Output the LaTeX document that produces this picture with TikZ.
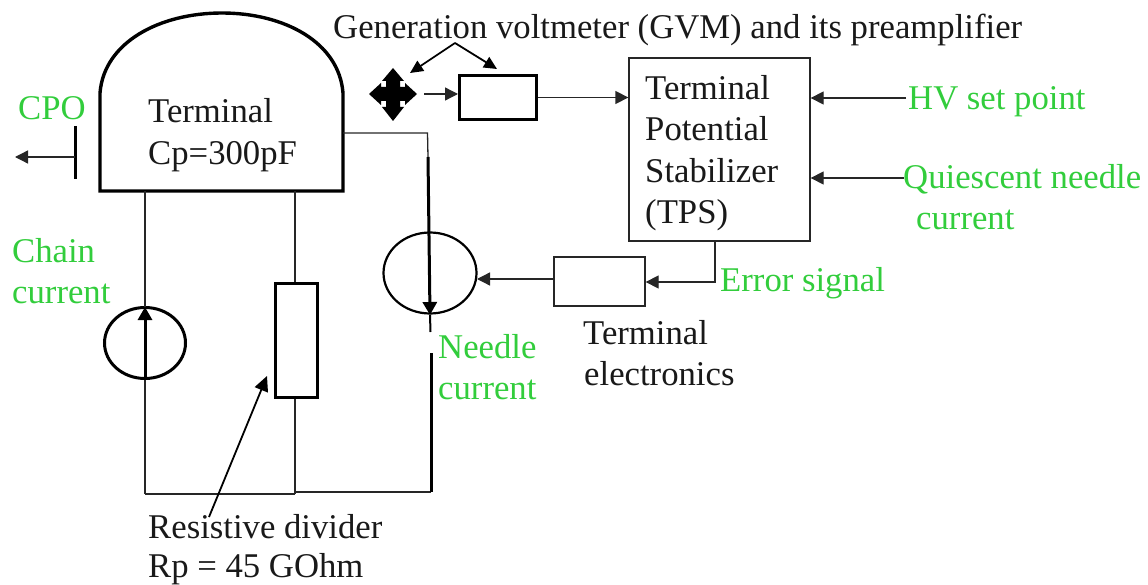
\documentclass[tikz,border=0pt]{standalone}
\usepackage{fontspec}
\setmainfont{Liberation Serif}
\usetikzlibrary{arrows.meta,calc,shapes.geometric}
\definecolor{lblgreen}{RGB}{50,205,60}
\tikzset{
  thinw/.style={line width=1.3pt,black!85},
  thickw/.style={line width=3pt,black},
  arr/.style={thinw,-{Triangle[length=13pt,width=13pt]}},
  thickarr/.style={thickw,-{Triangle[length=13pt,width=14pt]}},
  txt/.style={inner sep=0pt,anchor=base west,align=left,font=\fontsize{34.7}{42}\selectfont,text=black!90},
  gtxt/.style={txt,text=lblgreen},
}
\begin{document}
\begin{tikzpicture}[x=1pt,y=-1pt]
\useasboundingbox (0,0) rectangle (1148,585);
% terminal dome
\coordinate (domeL) at (100,93);
\coordinate (domeR) at (343,93);
\coordinate (domeBL) at (100,191);
\coordinate (domeBR) at (343,191);
\coordinate (domeOut) at (343,133);
\coordinate (chainTop) at (145,191);
\coordinate (divTop) at (295,191);
\draw[line width=3.4pt,line join=miter] (domeBL) -- (domeL)
  .. controls (104,42) and (160,13) .. (222,13)
  .. controls (284,13) and (339,42) .. (domeR) -- (domeBR) -- cycle;
\node[txt] (term) at (148,123) {Terminal};
\node[txt] (cp) at (148,165) {Cp=300pF};
% CPO
\node[gtxt] (cpo) at (18,120) {CPO};
\coordinate (plateT) at (75,126);
\coordinate (plateB) at (75,179);
\coordinate (plateM) at (75,157);
\coordinate (cpoEnd) at (15,157);
\draw[line width=3pt] (plateT) -- (plateB);
\draw[arr] (plateM) -- (cpoEnd);
% chain source
\node[draw,line width=3pt,ellipse,minimum width=81pt,minimum height=71pt,inner sep=0pt] (chain) at (145,343) {};
\coordinate (chainBot) at (145,494);
\coordinate (chainS) at (145,380);
\coordinate (chainN) at (145,307);
\draw[thinw] (chainTop) -- (chainN);
\draw[thinw] (chainS) -- (chainBot);
\draw[thickarr] (chainS) -- (chainN);
\node[gtxt] (chainl) at (12,262) {Chain};
\node[gtxt] (chainl2) at (12,303) {current};
% divider
\node[draw,line width=3pt,minimum width=42pt,minimum height=113pt,inner sep=0pt] (div) at (296.5,340.5) {};
\coordinate (divBot) at (295,494);
\coordinate (needleBot) at (431,492);
\draw[thinw] (divTop) -- (div.north -| divTop);
\draw[thinw] (div.south -| divBot) -- (divBot);
\draw[thinw] (chainBot) -- (divBot);
\draw[thinw] (divBot |- needleBot) -- (needleBot);
% divider label
\node[txt] (divl) at (148,538) {Resistive divider};
\node[txt] (divl2) at (148,577.5) {Rp = 45 GOhm};
\coordinate (divArrS) at (209,517);
\coordinate (divArrE) at (267,376);
\draw[line width=1.8pt,-{Triangle[length=15pt,width=14pt]}] (divArrS) -- (divArrE);
% needle source
\node[draw,line width=2.2pt,ellipse,minimum width=93pt,minimum height=81pt,inner sep=0pt] (needle) at (430,273) {};
\coordinate (nTop) at (427.5,133);
\coordinate (nThick) at (428,157);
\coordinate (nTip) at (430,315);
\coordinate (nGap) at (430.5,332);
\coordinate (nGapEnd) at (431,353);
\draw[thinw] (domeOut) -- (nTop) -- (nThick);
\draw[thickw,-{Triangle[length=13pt,width=14pt]}] (nThick) -- (nTip);
\draw[line width=2pt] (nTip) -- (nGap);
\draw[line width=3pt] (nGapEnd) -- (needleBot);
\node[gtxt] (needlel) at (438,358) {Needle};
\node[gtxt] (needlel2) at (438,399) {current};
% GVM
\node[txt] (gvm) at (333,39) {Generation voltmeter (GVM) and its preamplifier};
\coordinate (apex) at (455,43);
\coordinate (apexL) at (410,73);
\coordinate (apexR) at (497,69);
\draw[line width=1.8pt,-{Triangle[length=13pt,width=12pt]}] (apex) -- (apexL);
\draw[line width=1.8pt,-{Triangle[length=13pt,width=12pt]}] (apex) -- (apexR);
\fill[black] (393,68) -- (404,81) -- (400,81) -- (400,87) -- (405,87) -- (405,83) -- (417,94)
  -- (405,105) -- (405,101) -- (400,101) -- (400,107) -- (404,107) -- (393,121)
  -- (382,107) -- (386,107) -- (386,101) -- (381,101) -- (381,105) -- (369,94)
  -- (381,83) -- (381,87) -- (386,87) -- (386,81) -- (382,81) -- cycle;
\node[draw,line width=3pt,minimum width=77pt,minimum height=44pt,inner sep=0pt] (pre) at (498,97.5) {};
\coordinate (crossOut) at (424,94);
\draw[arr] (crossOut) -- (crossOut -| pre.west);
% TPS
\node[draw,thinw,minimum width=181pt,minimum height=183pt,inner sep=0pt] (tps) at (719.5,149.5) {};
\node[txt] (t1) at (645,100) {Terminal};
\node[txt] (t2) at (645,141) {Potential};
\node[txt] (t3) at (645,183) {Stabilizer};
\node[txt] (t4) at (645,224) {(TPS)};
\coordinate (preOut) at (pre.east);
\draw[arr] (preOut) -- (preOut -| tps.west);
% HV
\node[gtxt] (hv) at (908,110) {HV set point};
\coordinate (hvS) at (906,98);
\draw[arr] (hvS) -- (hvS -| tps.east);
\node[gtxt] (qn) at (903,189) {Quiescent needle};
\node[gtxt] (qn2) at (916,230) {current};
\coordinate (qS) at (904,178);
\draw[arr] (qS) -- (qS -| tps.east);
% terminal electronics
\node[draw,thinw,minimum width=91pt,minimum height=49pt,inner sep=0pt] (te) at (599.5,281.5) {};
\coordinate (errTop) at (715,241);
\coordinate (errCorner) at (715,282);
\draw[arr] (errTop) -- (errCorner) -- (errCorner -| te.east);
\coordinate (teOut) at (554,279);
\draw[arr] (teOut) -- (477,279);
\node[gtxt] (err) at (720,291) {Error signal};
\node[txt] (tel) at (583,344) {Terminal};
\node[txt] (tel2) at (584,385) {electronics};
\end{tikzpicture}
\end{document}
